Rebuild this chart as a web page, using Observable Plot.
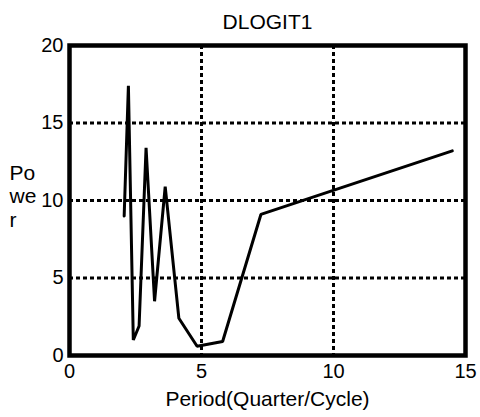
<!DOCTYPE html>
<html>
<head>
<meta charset="utf-8">
<script src="https://cdn.jsdelivr.net/npm/d3@7"></script>
<script src="https://cdn.jsdelivr.net/npm/@observablehq/plot@0.6"></script>
<style>
  html, body { margin: 0; padding: 0; background: #fff; }
</style>
</head>
<body>
<div id="chart"></div>
<script>
const title = "DLOGIT1";
const xLabel = "Period(Quarter/Cycle)";
const yLabel = "Po\nwe\nr";
const periods = [2.071, 2.231, 2.417, 2.636, 2.9, 3.222, 3.625, 4.143, 4.833, 5.8, 7.25, 14.5];
const power = [9.0, 17.4, 1.0, 1.9, 13.4, 3.5, 10.9, 2.4, 0.6, 0.9, 9.1, 13.2];
const xTicks = [0, 5, 10, 15];
const yTicks = [0, 5, 10, 15, 20];
const xGrid = [5, 10];
const yGrid = [5, 10, 15];

const data = periods.map((p, i) => ({period: p, power: power[i]}));

const chart = Plot.plot({
  width: 480,
  height: 417,
  marginTop: 45,
  marginBottom: 62,
  marginLeft: 69,
  marginRight: 15,
  style: {fontFamily: "Liberation Sans, Arial, sans-serif", fontSize: "20px", color: "#000", background: "#fff"},
  x: {domain: [0, 15]},
  y: {domain: [0, 20]},
  marks: [
    Plot.gridX(xGrid, {stroke: "#000", strokeOpacity: 1, strokeWidth: 3, strokeDasharray: "4,3"}),
    Plot.gridY(yGrid, {stroke: "#000", strokeOpacity: 1, strokeWidth: 3, strokeDasharray: "4,3"}),
    Plot.axisX(xTicks, {tickSize: 0, tickPadding: 8, label: null, fill: "#000", fontSize: 20}),
    Plot.axisY(yTicks, {tickSize: 0, tickPadding: 6, label: null, fill: "#000", fontSize: 20}),
    Plot.line(data, {x: "period", y: "power", stroke: "#000", strokeWidth: 3, strokeLinejoin: "miter"}),
    Plot.frame({stroke: "#000", strokeWidth: 4.5}),
    Plot.text([title], {frameAnchor: "top", lineAnchor: "bottom", dy: -16.7, fontSize: 21, fill: "#000"}),
    Plot.text([xLabel], {frameAnchor: "bottom", lineAnchor: "bottom", dy: 50, fontSize: 21, fill: "#000"}),
    Plot.text([yLabel], {frameAnchor: "left", textAnchor: "start", lineAnchor: "middle", dx: -60, dy: -5, fontSize: 21, lineHeight: 1.12, fill: "#000"})
  ]
});
document.getElementById("chart").appendChild(chart);
</script>
</body>
</html>
